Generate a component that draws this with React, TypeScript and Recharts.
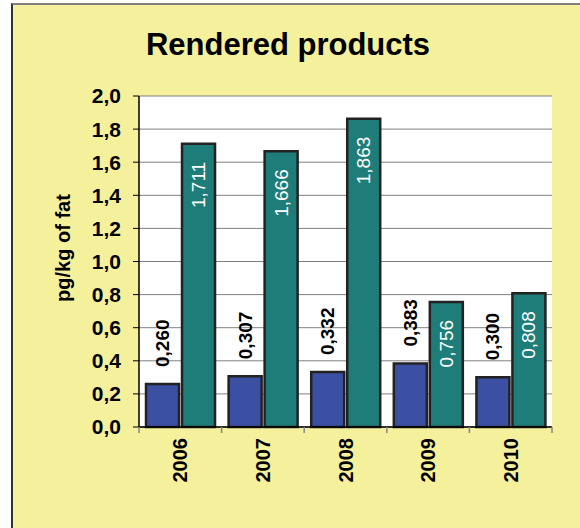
import React from "react";
import { BarChart, Bar, XAxis, YAxis, CartesianGrid, LabelList } from "recharts";

const years = ["2006", "2007", "2008", "2009", "2010"];
const seriesA = [0.26, 0.307, 0.332, 0.383, 0.3];
const seriesB = [1.711, 1.666, 1.863, 0.756, 0.808];
const yTicks = [0, 0.2, 0.4, 0.6, 0.8, 1.0, 1.2, 1.4, 1.6, 1.8, 2.0];

const W = 580;
const H = 528;
const M = { top: 96, right: 28, bottom: 41, left: 59 };
const Y_AXIS_W = 80;
const FONT = "'Liberation Sans', Arial, sans-serif";

const data = years.map((y, i) => ({ year: y, a: seriesA[i], b: seriesB[i] }));
const fmt = (v: number, d: number) => v.toFixed(d).replace(".", ",");

// plot width, used for category boundary ticks
const plotW = W - M.left - Y_AXIS_W - M.right;
const band = plotW / years.length;

const YearTick = (props: any) => {
  const { x, y, payload, index } = props;
  return (
    <g>
      <line x1={x - band / 2} x2={x - band / 2} y1={y - 8} y2={y - 2} stroke="#888" strokeWidth={1.5} />
      {index === years.length - 1 && (
        <line x1={x + band / 2} x2={x + band / 2} y1={y - 8} y2={y - 2} stroke="#888" strokeWidth={1.5} />
      )}
      <text
        x={x}
        y={y + 3}
        transform={`rotate(-90, ${x}, ${y + 3})`}
        textAnchor="end"
        dominantBaseline="central"
        fontFamily={FONT}
        fontWeight="bold"
        fontSize={20}
        fill="#000"
      >
        {payload.value}
      </text>
    </g>
  );
};

const OutsideLabel = (props: any) => {
  const { x, y, width, value } = props;
  const cx = x + width / 2;
  const ty = y - 17;
  return (
    <text
      x={cx}
      y={ty}
      transform={`rotate(-90, ${cx}, ${ty})`}
      textAnchor="start"
      dominantBaseline="central"
      fontFamily={FONT}
      fontWeight="bold"
      fontSize={19}
      fill="#000"
    >
      {fmt(value, 3)}
    </text>
  );
};

const InsideLabel = (props: any) => {
  const { x, y, width, value } = props;
  const cx = x + width / 2;
  const ty = y + 18;
  return (
    <text
      x={cx}
      y={ty}
      transform={`rotate(-90, ${cx}, ${ty})`}
      textAnchor="end"
      dominantBaseline="central"
      fontFamily={FONT}
      fontSize={19}
      fill="#fff"
    >
      {fmt(value, 3)}
    </text>
  );
};

export default function App() {
  return (
    <div style={{ position: "absolute", left: 0, top: 0, width: W, height: H, background: "#fff", overflow: "hidden" }}>
      {/* frame */}
      <div
        style={{
          position: "absolute",
          left: 11,
          top: 3,
          width: W - 11,
          height: H - 3,
          boxSizing: "border-box",
          background: "#F4F09C",
          borderLeft: "2px solid #333",
          borderTop: "2px solid #808080",
        }}
      />
      <div style={{ position: "absolute", left: 0, top: 0 }}>
        <BarChart width={W} height={H} data={data} margin={M} barCategoryGap="8.5%" barGap={3}>
          <CartesianGrid vertical={false} stroke="#808080" fill="#fff" />
          <XAxis
            dataKey="year"
            height={60}
            tickLine={false}
            axisLine={{ stroke: "#000", strokeWidth: 1.5 }}
            tick={<YearTick />}
            interval={0}
          />
          <YAxis
            width={Y_AXIS_W}
            domain={[0, 2]}
            ticks={yTicks}
            tickFormatter={(v: number) => fmt(v, 1)}
            tickSize={6}
            tickMargin={12}
            axisLine={{ stroke: "#000", strokeWidth: 1.5 }}
            tickLine={{ stroke: "#000" }}
            tick={{ fontFamily: FONT, fontWeight: "bold", fontSize: 21, fill: "#000" }}
            interval={0}
          />
          <YAxis
            yAxisId="frame"
            orientation="right"
            width={0}
            tick={false}
            tickLine={false}
            axisLine={{ stroke: "#aaa", strokeWidth: 1.5 }}
          />
          <Bar dataKey="a" fill="#3B4FA3" stroke="#222" strokeWidth={2.5} isAnimationActive={false}>
            <LabelList dataKey="a" content={<OutsideLabel />} />
          </Bar>
          <Bar dataKey="b" fill="#1E7D78" stroke="#222" strokeWidth={2.5} isAnimationActive={false}>
            <LabelList dataKey="b" content={<InsideLabel />} />
          </Bar>
        </BarChart>
      </div>
      <svg width={W} height={H} style={{ position: "absolute", left: 0, top: 0, pointerEvents: "none" }}>
        <text x={288} y={55} textAnchor="middle" fontFamily={FONT} fontWeight="bold" fontSize={31} fill="#000">
          Rendered products
        </text>
        <text
          x={63}
          y={248}
          transform="rotate(-90, 63, 248)"
          textAnchor="middle"
          dominantBaseline="central"
          fontFamily={FONT}
          fontWeight="bold"
          fontSize={20}
          fill="#000"
        >
          pg/kg of fat
        </text>
      </svg>
    </div>
  );
}
